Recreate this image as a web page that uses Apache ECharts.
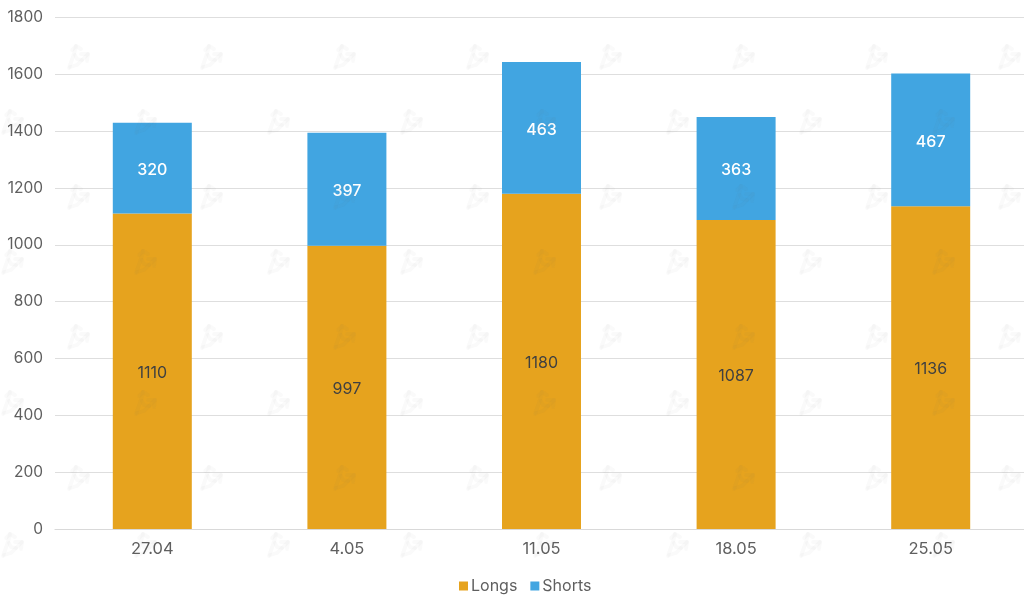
<!DOCTYPE html>
<html><head><meta charset="utf-8"><style>html,body{margin:0;padding:0;background:#fff}#c{width:1024px;height:602px}</style>
<script src="https://cdn.jsdelivr.net/npm/echarts@6/dist/echarts.min.js"></script></head><body><div id="c"></div><script>
const categories=['27.04','4.05','11.05','18.05','25.05'];
const longs=[1110,997,1180,1087,1136];
const shorts=[320,397,463,363,467];
const F='Inter';
const strokes=[
 [[-9,11],[-4,-3],[-2,-11]],
 [[-6,-7],[-2,-11],[3,-8]],
 [[-8,10],[-1,8],[4,3],[10,-3]],
 [[3,-3],[10,-3],[9,4]],
 [[-3,-2],[-1,2],[4,3]]
];
const marks=[];
[-18,57,122,197,262,337,403,478,545,617].forEach(function(y,r){
  for(let x=(r%2?78:12);x<1060;x+=133){
    strokes.forEach(function(pts){
      marks.push({type:'polyline',silent:true,z:50,x:x,y:y,shape:{points:pts},
        style:{fill:null,stroke:'rgba(110,110,110,0.035)',lineWidth:3.8,lineCap:'round',lineJoin:'round'}});
    });
  }
});
const chart=echarts.init(document.getElementById('c'),null,{renderer:'canvas'});
chart.setOption({animation:false,backgroundColor:'#fff',
graphic:marks,
grid:{left:55,width:973,top:17.5,bottom:73,outerBoundsMode:'none'},
legend:{bottom:3,left:454,itemWidth:9,itemHeight:9,itemGap:13,icon:'rect',textStyle:{color:'#5f5f5f',fontSize:16,fontFamily:F,padding:[0,0,0,-2]},data:['Longs','Shorts']},
xAxis:{type:'category',data:categories,axisTick:{show:false},axisLine:{lineStyle:{color:'#d9d9d9',width:1.2}},axisLabel:{color:'#5f5f5f',fontSize:16.5,fontFamily:F,margin:12}},
yAxis:{type:'value',min:0,max:1800,interval:200,axisLine:{show:false},axisTick:{show:false},splitLine:{lineStyle:{color:'#dedede',width:1.2}},axisLabel:{color:'#5f5f5f',fontSize:15.5,fontFamily:F,margin:12,formatter:function(v){return String(v);}}},
series:[
{name:'Longs',type:'bar',stack:'a',barWidth:79,data:longs,itemStyle:{color:'#E6A31E'},label:{show:true,position:'inside',color:'#404040',fontSize:16,fontFamily:F,offset:[0,2]}},
{name:'Shorts',type:'bar',stack:'a',barWidth:79,data:shorts,itemStyle:{color:'#41A5E1'},label:{show:true,position:'inside',color:'#fff',fontSize:16,fontWeight:500,fontFamily:F,offset:[0,2]}}
]});
</script></body></html>
